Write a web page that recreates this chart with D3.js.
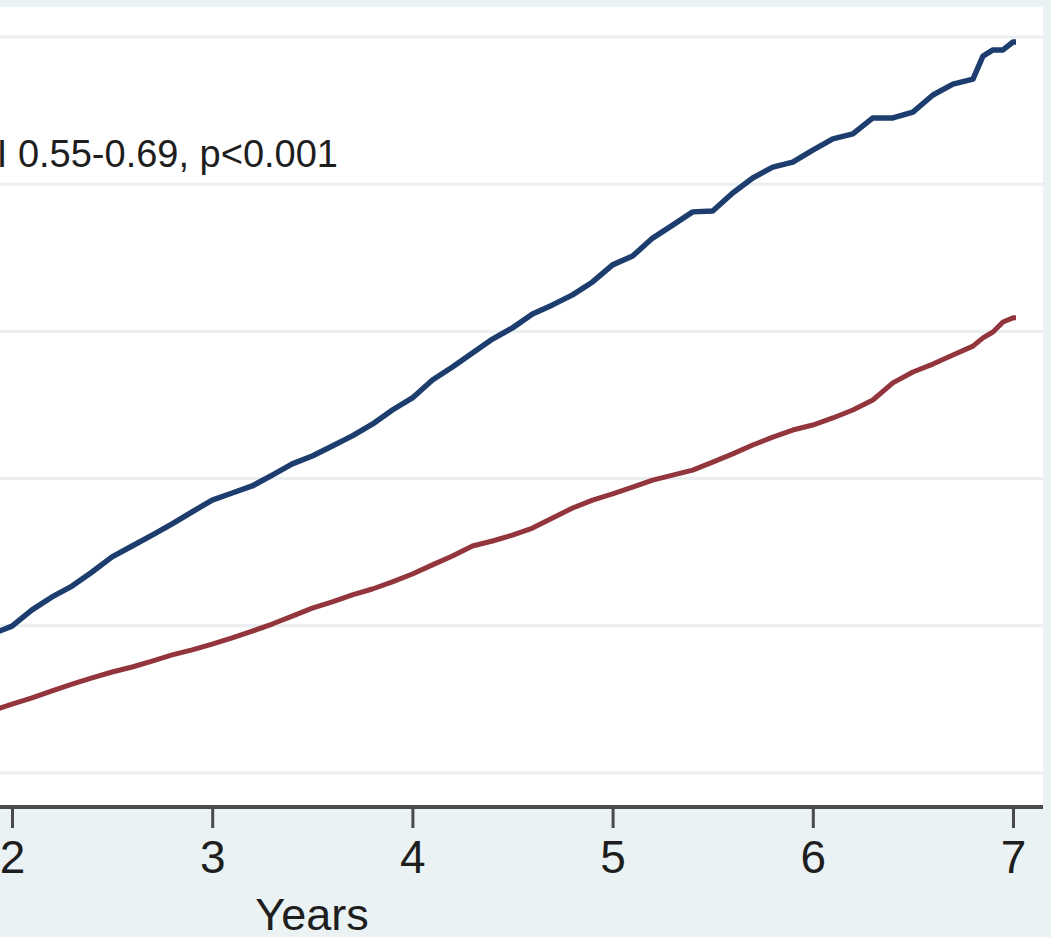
<!DOCTYPE html>
<html>
<head>
<meta charset="utf-8">
<script src="https://cdn.jsdelivr.net/npm/d3@7"></script>
<style>
  html, body { margin: 0; padding: 0; background: #eaf2f3; }
  svg { display: block; }
</style>
</head>
<body>
<svg id="chart" width="1051" height="937"></svg>
<script>
// Follow-up time (years) at which cumulative incidence is read
const years = [1.90, 2.00, 2.10, 2.20, 2.30, 2.40, 2.50, 2.60, 2.70, 2.80, 2.90,
               3.00, 3.10, 3.20, 3.30, 3.40, 3.50, 3.60, 3.70, 3.80, 3.90,
               4.00, 4.10, 4.20, 4.30, 4.40, 4.50, 4.60, 4.70, 4.80, 4.90,
               5.00, 5.10, 5.20, 5.30, 5.40, 5.50, 5.60, 5.70, 5.80, 5.90,
               6.00, 6.10, 6.20, 6.30, 6.40, 6.50, 6.60, 6.70, 6.80, 6.85,
               6.90, 6.95, 7.00, 7.015];

// Cumulative incidence, reference group (blue)
const blueSeries = [0.0472, 0.0499, 0.0554, 0.0598, 0.0635, 0.0683, 0.0734, 0.0771, 0.0808, 0.0846, 0.0887,
                    0.0927, 0.0951, 0.0975, 0.1012, 0.1050, 0.1077, 0.1111, 0.1145, 0.1185, 0.1233,
                    0.1274, 0.1335, 0.1379, 0.1427, 0.1474, 0.1512, 0.1559, 0.1590, 0.1624, 0.1668,
                    0.1726, 0.1756, 0.1817, 0.1861, 0.1906, 0.1909, 0.1970, 0.2021, 0.2058, 0.2075,
                    0.2116, 0.2154, 0.2171, 0.2225, 0.2225, 0.2245, 0.2303, 0.2340, 0.2357, 0.2435,
                    0.2456, 0.2456, 0.2483, 0.2483];

// Cumulative incidence, comparison group (red)
const redSeries = [0.0211, 0.0234, 0.0255, 0.0279, 0.0302, 0.0323, 0.0343, 0.0360, 0.0380, 0.0401, 0.0418,
                   0.0438, 0.0459, 0.0482, 0.0506, 0.0533, 0.0560, 0.0581, 0.0605, 0.0625, 0.0649,
                   0.0676, 0.0707, 0.0737, 0.0771, 0.0788, 0.0808, 0.0832, 0.0866, 0.0900, 0.0927,
                   0.0948, 0.0971, 0.0995, 0.1012, 0.1029, 0.1056, 0.1084, 0.1114, 0.1141, 0.1165,
                   0.1182, 0.1206, 0.1233, 0.1267, 0.1325, 0.1362, 0.1389, 0.1420, 0.1450, 0.1478,
                   0.1498, 0.1532, 0.1546, 0.1546];

const xTicks = [2, 3, 4, 5, 6, 7];
const yTicks = [0, 0.05, 0.10, 0.15, 0.20, 0.25];
const annotation = "HR 0.62, 95% CI 0.55-0.69, p<0.001";
const xTitle = "Years";

const svg = d3.select("#chart");
const W = 1051, H = 937;
const font = "'Liberation Sans', Arial, Helvetica, sans-serif";

// Scales: years to horizontal position, incidence to vertical
const x = d3.scaleLinear().domain([2, 7]).range([12, 1013]);
const y = d3.scaleLinear().domain([0, 0.25]).range([773, 37]);

const plotRight = 1043, plotTop = 7, axisY = 807;
const plotLeft = x(-0.15);

// Graph region background
svg.append("rect").attr("x", 0).attr("y", 0).attr("width", W).attr("height", H)
  .attr("fill", "#eaf2f3");

// Plot region
svg.append("rect")
  .attr("x", plotLeft).attr("y", plotTop)
  .attr("width", plotRight - plotLeft).attr("height", axisY - plotTop)
  .attr("fill", "#ffffff");

// Horizontal gridlines
svg.append("g").selectAll("line").data(yTicks).join("line")
  .attr("x1", plotLeft).attr("x2", plotRight)
  .attr("y1", d => y(d)).attr("y2", d => y(d))
  .attr("stroke", "#eaeef0").attr("stroke-width", 3);

// Annotation (runs past the left edge of the frame)
svg.append("text")
  .attr("x", 338).attr("y", 167)
  .attr("text-anchor", "end")
  .attr("font-family", font).attr("font-size", 38)
  .attr("fill", "#1e1e1e")
  .text(annotation);

// Curves
const line = d3.line()
  .x((d, i) => x(years[i]))
  .y(d => y(d))
  .curve(d3.curveLinear);

svg.append("path").datum(redSeries)
  .attr("d", line).attr("fill", "none")
  .attr("stroke", "#93353d").attr("stroke-width", 5)
  .attr("stroke-linejoin", "round");

svg.append("path").datum(blueSeries)
  .attr("d", line).attr("fill", "none")
  .attr("stroke", "#1c3d6e").attr("stroke-width", 5.5)
  .attr("stroke-linejoin", "round");

// X axis
const xAxis = d3.axisBottom(x).tickValues(xTicks).tickSize(21).tickPadding(12)
  .tickFormat(d3.format("d"));
const gx = svg.append("g").attr("transform", `translate(0,${axisY})`).call(xAxis);
gx.select(".domain").remove();
gx.append("line")
  .attr("x1", plotLeft).attr("x2", plotRight).attr("y1", 0).attr("y2", 0)
  .attr("stroke", "#4a4a4a").attr("stroke-width", 4);
gx.selectAll(".tick line").attr("stroke", "#4a4a4a").attr("stroke-width", 3);
gx.selectAll(".tick text")
  .attr("font-family", font).attr("font-size", 46)
  .attr("fill", "#1e1e1e");

// Axis title
svg.append("text")
  .attr("x", 312).attr("y", 930)
  .attr("text-anchor", "middle")
  .attr("font-family", font).attr("font-size", 45)
  .attr("fill", "#1e1e1e")
  .text(xTitle);
</script>
</body>
</html>
